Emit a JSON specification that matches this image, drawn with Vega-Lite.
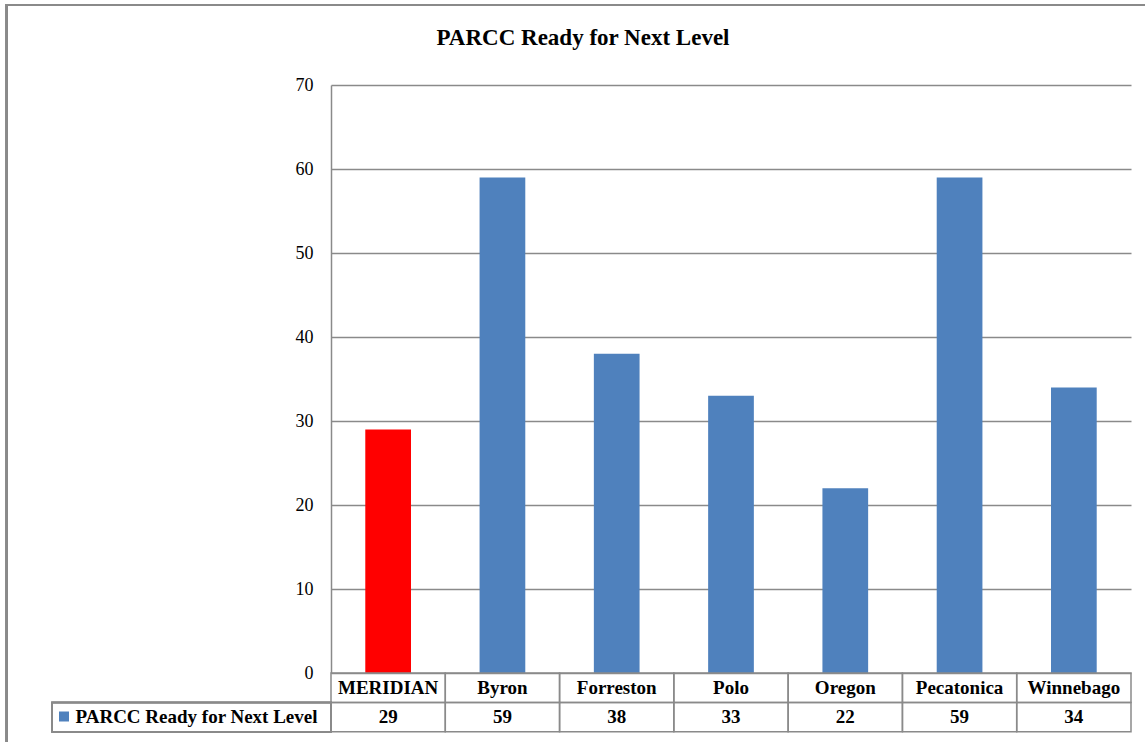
{
  "$schema": "https://vega.github.io/schema/vega-lite/v6.json",
  "width": 800,
  "height": 588,
  "autosize": {"type": "none"},
  "padding": {"left": 331, "top": 85, "right": 14, "bottom": 69},
  "background": "white",
  "config": {
    "view": {"stroke": null},
    "font": "Liberation Serif"
  },
  "title": {
    "text": "PARCC Ready for Next Level",
    "font": "Liberation Serif",
    "fontSize": 23,
    "fontWeight": "bold",
    "color": "black",
    "anchor": "middle",
    "dx": -148,
    "baseline": "alphabetic",
    "offset": -64
  },
  "data": {
    "values": [
      {"district": "MERIDIAN", "value": 29, "series": "PARCC Ready for Next Level"},
      {"district": "Byron", "value": 59, "series": "PARCC Ready for Next Level"},
      {"district": "Forreston", "value": 38, "series": "PARCC Ready for Next Level"},
      {"district": "Polo", "value": 33, "series": "PARCC Ready for Next Level"},
      {"district": "Oregon", "value": 22, "series": "PARCC Ready for Next Level"},
      {"district": "Pecatonica", "value": 59, "series": "PARCC Ready for Next Level"},
      {"district": "Winnebago", "value": 34, "series": "PARCC Ready for Next Level"}
    ]
  },
  "layer": [
    {
      "encoding": {
        "x": {
          "field": "district",
          "type": "nominal",
          "sort": null,
          "scale": {"paddingInner": 0, "paddingOuter": 0},
          "axis": null
        }
      },
      "layer": [
        {
          "mark": {"type": "bar", "width": {"band": 0.4}},
          "encoding": {
            "y": {
              "field": "value",
              "type": "quantitative",
              "scale": {"domain": [0, 70], "nice": false},
              "axis": {
                "title": null,
                "values": [0, 10, 20, 30, 40, 50, 60, 70],
                "grid": true,
                "gridColor": "#8a8a8a",
                "gridWidth": 1.5,
                "domainColor": "#8a8a8a",
                "domainWidth": 1.5,
                "ticks": false,
                "tickSize": 0,
                "labelPadding": 18,
                "labelFont": "Liberation Serif",
                "labelFontSize": 18,
                "labelColor": "black"
              }
            },
            "color": {
              "condition": {"test": "datum.district === 'MERIDIAN'", "value": "#FF0000"},
              "field": "series",
              "type": "nominal",
              "scale": {"domain": ["PARCC Ready for Next Level"], "range": ["#4F81BD"]},
              "legend": {
                "orient": "none",
                "legendX": -276.5,
                "legendY": 622,
                "title": null,
                "padding": 0,
                "symbolType": "square",
                "symbolSize": 100,
                "symbolStrokeWidth": 0,
                "labelFont": "Liberation Serif",
                "labelFontSize": 19,
                "labelFontWeight": "bold",
                "labelColor": "black",
                "labelOffset": 2,
                "labelLimit": 400
              }
            }
          }
        },
        {
          "mark": {"type": "bar", "fill": "transparent", "stroke": "#8a8a8a", "strokeWidth": 1.5, "width": {"band": 1}},
          "encoding": {
            "y": {"datum": 0, "type": "quantitative", "scale": {"domain": [0, 70], "nice": false}},
            "y2": {"datum": -3.5}
          }
        },
        {
          "mark": {"type": "bar", "fill": "transparent", "stroke": "#8a8a8a", "strokeWidth": 1.5, "width": {"band": 1}},
          "encoding": {
            "y": {"datum": -3.5, "type": "quantitative", "scale": {"domain": [0, 70], "nice": false}},
            "y2": {"datum": -7}
          }
        },
        {
          "mark": {"type": "text", "font": "Liberation Serif", "fontSize": 19, "fontWeight": "bold", "color": "black", "baseline": "middle"},
          "encoding": {
            "y": {"datum": -1.75, "type": "quantitative", "scale": {"domain": [0, 70], "nice": false}},
            "text": {"field": "district"}
          }
        },
        {
          "mark": {"type": "text", "font": "Liberation Serif", "fontSize": 19, "fontWeight": "bold", "color": "black", "baseline": "middle"},
          "encoding": {
            "y": {"datum": -5.25, "type": "quantitative", "scale": {"domain": [0, 70], "nice": false}},
            "text": {"field": "value", "type": "quantitative"}
          }
        }
      ]
    },
    {
      "layer": [
        {
          "mark": {"type": "rect", "fill": "transparent", "stroke": "#8a8a8a", "strokeWidth": 1.5},
          "encoding": {
            "x": {"datum": -2.441, "type": "quantitative", "scale": {"domain": [0, 7], "nice": false, "zero": false}, "axis": null},
            "x2": {"datum": 0},
            "y": {"datum": -3.5, "type": "quantitative", "scale": {"domain": [0, 70], "nice": false}},
            "y2": {"datum": -7}
          }
        },
        {
          "mark": {"type": "rect", "fill": "transparent", "stroke": "#8a8a8a", "strokeWidth": 2},
          "encoding": {
            "x": {"datum": -2.839, "type": "quantitative", "scale": {"domain": [0, 7], "nice": false, "zero": false}, "axis": null},
            "x2": {"datum": 7.17},
            "y": {"datum": 79.52, "type": "quantitative", "scale": {"domain": [0, 70], "nice": false}},
            "y2": {"datum": -9.17}
          }
        }
      ]
    }
  ],
  "resolve": {"scale": {"x": "independent"}, "axis": {"x": "independent"}}
}
